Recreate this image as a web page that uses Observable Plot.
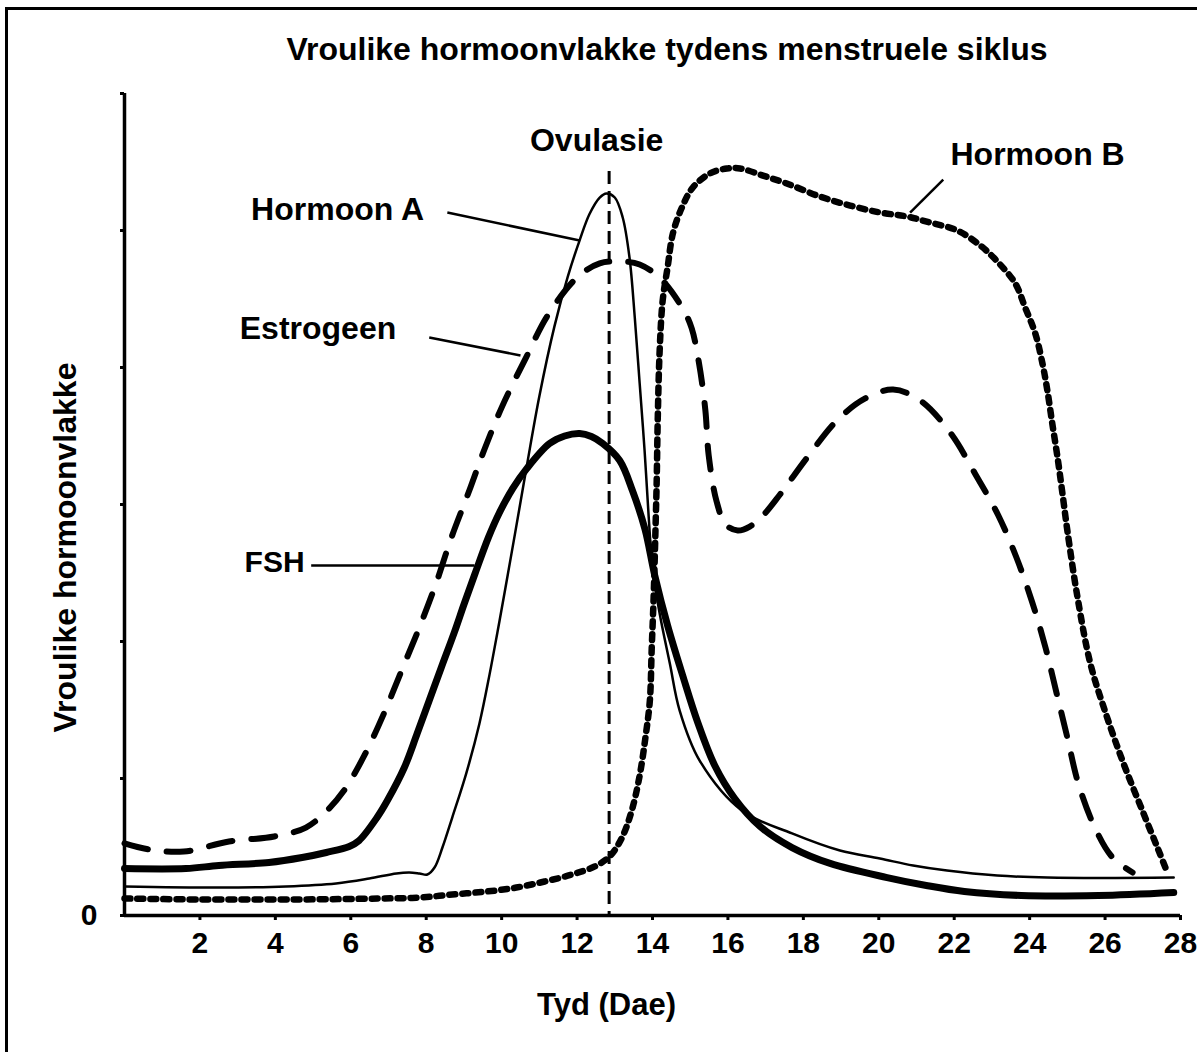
<!DOCTYPE html>
<html>
<head>
<meta charset="utf-8">
<script src="https://cdn.jsdelivr.net/npm/d3@7"></script>
<script src="https://cdn.jsdelivr.net/npm/@observablehq/plot@0.6"></script>
<style>
  html, body { margin: 0; padding: 0; background: #fff; }
  #wrap { position: relative; width: 1197px; height: 1052px; overflow: hidden; background: #fff;
          font-family: "Liberation Sans", Arial, sans-serif; font-weight: bold; }
  #border { position: absolute; left: 5px; top: 7px; width: 1250px; height: 1100px;
            border-left: 3px solid #000; border-top: 3px solid #000; pointer-events: none; z-index: 5; }
  #title { position: relative; height: 80px; }
  #title span { position: absolute; left: 667px; top: 33px; transform: translateX(-50%);
                font-size: 32px; line-height: 32px; white-space: nowrap; color: #000; }
  #chart svg { display: block; }
</style>
</head>
<body>
<div id="wrap">
  <div id="border"></div>
  <div id="title"><span>Vroulike hormoonvlakke tydens menstruele siklus</span></div>
  <div id="chart"></div>
</div>
<script>
// ---- data (day, relative level) ----
const xTicks = [2, 4, 6, 8, 10, 12, 14, 16, 18, 20, 22, 24, 26, 28];
const yTicks = [0, 1, 2, 3, 4, 5, 6];

const estrogen = [
  [0, 0.526], [0.645, 0.482], [1.575, 0.467], [2.77, 0.54], [3.97, 0.577], [4.81, 0.642],
  [5.37, 0.766], [5.82, 0.912], [6.36, 1.168], [6.89, 1.482], [7.37, 1.803], [7.84, 2.117],
  [8.27, 2.431], [8.67, 2.76], [9.14, 3.1], [9.54, 3.4], [10.02, 3.72], [10.66, 4.08],
  [11.22, 4.38], [12.01, 4.66], [12.6, 4.76], [13.15, 4.774], [13.66, 4.752], [14.24, 4.642],
  [14.83, 4.416], [15.04, 4.285], [15.23, 4.036], [15.40, 3.693], [15.49, 3.358], [15.70, 3.022],
  [15.94, 2.854], [16.26, 2.81], [16.58, 2.839], [16.93, 2.92], [17.38, 3.073], [18.12, 3.35],
  [18.89, 3.613], [19.64, 3.774], [20.38, 3.839], [21.1, 3.759], [21.89, 3.526], [22.58, 3.212],
  [23.17, 2.92], [23.65, 2.613], [24.07, 2.285], [24.42, 1.956], [24.71, 1.628], [25.0, 1.299],
  [25.29, 0.964], [25.74, 0.635], [26.2, 0.423], [26.73, 0.314]
];

const hormoneA = [
  [0, 0.212], [2.5, 0.204], [4.28, 0.212], [5.61, 0.234], [6.49, 0.27], [7.21, 0.307],
  [7.55, 0.314], [7.82, 0.307], [8.03, 0.299], [8.22, 0.35], [8.43, 0.496], [8.69, 0.715],
  [9.06, 1.036], [9.41, 1.4], [9.68, 1.76], [9.89, 2.07], [10.1, 2.39], [10.35, 2.78],
  [10.66, 3.27], [11.0, 3.79], [11.4, 4.3], [11.75, 4.66], [12.07, 4.93], [12.33, 5.12],
  [12.6, 5.24], [12.78, 5.27], [13.0, 5.241], [13.21, 5.095], [13.39, 4.803], [13.53, 4.365],
  [13.66, 3.883], [13.79, 3.394], [13.9, 2.905], [14.0, 2.54], [14.19, 2.204], [14.46, 1.839],
  [14.72, 1.496], [15.25, 1.131], [16.37, 0.766], [17.7, 0.599], [18.97, 0.474], [20.03, 0.416],
  [20.91, 0.365], [21.81, 0.328], [23.14, 0.292], [24.47, 0.277], [27.82, 0.277]
];

const fsh = [
  [0, 0.343], [1.63, 0.343], [2.5, 0.365], [3.83, 0.387], [4.71, 0.423], [5.35, 0.46],
  [5.96, 0.504], [6.22, 0.547], [6.7, 0.717], [6.97, 0.839], [7.42, 1.08], [7.76, 1.328],
  [8.08, 1.569], [8.4, 1.81], [8.75, 2.07], [9.0, 2.27], [9.3, 2.5], [9.65, 2.76],
  [9.94, 2.94], [10.3, 3.12], [10.66, 3.26], [11.27, 3.445], [11.67, 3.5], [12.07, 3.518], [12.38, 3.496],
  [12.68, 3.445], [13.13, 3.321], [13.47, 3.1], [13.8, 2.82], [14.06, 2.482], [14.4, 2.117],
  [14.8, 1.752], [15.2, 1.409], [15.65, 1.095], [16.18, 0.854], [16.85, 0.65], [17.7, 0.496], [18.71, 0.38],
  [20.22, 0.277], [21.26, 0.219], [22.27, 0.175], [23.78, 0.146], [25.82, 0.146], [27.82, 0.168]
];

const hormoneB = [
  [0, 0.124], [1.97, 0.117], [4.63, 0.117], [6.75, 0.124], [7.82, 0.131], [8.69, 0.153],
  [9.6, 0.175], [10.39, 0.204], [11.14, 0.248], [11.86, 0.299], [12.47, 0.358], [12.86, 0.431],
  [13.18, 0.562], [13.45, 0.766], [13.66, 1.022], [13.82, 1.314], [13.93, 1.569], [13.98, 1.956],
  [14.03, 2.321], [14.09, 2.934], [14.11, 3.153], [14.14, 3.635], [14.19, 4.124], [14.27, 4.489],
  [14.4, 4.73], [14.54, 4.978], [14.78, 5.168], [15.07, 5.314], [15.52, 5.416], [15.97, 5.453],
  [16.32, 5.453], [16.93, 5.401], [17.56, 5.343], [18.44, 5.248], [19.24, 5.182], [20.04, 5.131],
  [20.75, 5.102], [21.36, 5.058], [22.08, 5.0], [22.69, 4.891], [23.17, 4.766], [23.62, 4.613],
  [23.88, 4.438], [24.15, 4.248], [24.34, 4.029], [24.47, 3.832], [24.6, 3.591], [24.74, 3.343],
  [24.87, 3.08], [25.0, 2.81], [25.27, 2.321], [25.61, 1.839], [26.01, 1.482], [26.49, 1.109],
  [27.02, 0.745], [27.42, 0.474], [27.66, 0.307]
];

const ovulationDay = [12.85];
const ovulationTop = 5.43;

const labelText = ["Ovulasie", "Hormoon A", "Estrogeen", "FSH", "Hormoon B"];
const labelDay = [12.52, 5.65, 5.13, 3.98, 24.21];
const labelLevel = [5.657, 5.153, 4.285, 2.577, 5.555];
const labelSize = [32, 32, 32, 30, 32];

const leaderFrom = [[8.56, 5.131], [8.08, 4.219], [4.95, 2.555], [21.71, 5.372]];
const leaderTo = [[12.07, 4.927], [10.5, 4.088], [9.28, 2.555], [20.83, 5.131]];

// ---- tables built from the arrays ----
const labels = labelText.map((t, i) => ({text: t, day: labelDay[i], level: labelLevel[i], size: labelSize[i]}));
const leaders = leaderFrom.map((f, i) => ({x1: f[0], y1: f[1], x2: leaderTo[i][0], y2: leaderTo[i][1]}));

const chart = Plot.plot({
  width: 1197,
  height: 972,
  marginTop: 13,
  marginBottom: 137,
  marginLeft: 124,
  marginRight: 17,
  x: {domain: [0, 28]},
  y: {domain: [0, 6]},
  style: {
    fontFamily: '"Liberation Sans", Arial, sans-serif',
    fontWeight: "bold",
    fontSize: "30px",
    color: "#000",
    background: "transparent",
    overflow: "visible"
  },
  marks: [
    Plot.ruleY([0], {stroke: "#000", strokeWidth: 3.5}),
    Plot.ruleX([0], {stroke: "#000", strokeWidth: 3.5}),
    Plot.axisX({ticks: xTicks, tickSize: 5, tickPadding: 11, strokeWidth: 3, label: null, tickFormat: d => String(d)}),
    Plot.axisY({ticks: yTicks, tickSize: 4, tickPadding: 23, strokeWidth: 3, label: null, tickFormat: d => d === 0 ? "0" : ""}),
    Plot.ruleX(ovulationDay, {y1: ovulationTop, y2: 0, stroke: "#000", strokeWidth: 3, strokeDasharray: "13 7"}),
    Plot.line(hormoneB, {curve: "catmull-rom", stroke: "#000", strokeWidth: 6.5, strokeDasharray: "6 7"}),
    Plot.line(estrogen, {curve: "catmull-rom", stroke: "#000", strokeWidth: 6, strokeDasharray: "24 19"}),
    Plot.line(hormoneA, {curve: "catmull-rom", stroke: "#000", strokeWidth: 2.5}),
    Plot.line(fsh, {curve: "catmull-rom", stroke: "#000", strokeWidth: 7}),
    Plot.link(leaders, {x1: "x1", y1: "y1", x2: "x2", y2: "y2", stroke: "#000", strokeWidth: 2.5}),
    Plot.text(labels, {x: "day", y: "level", text: "text", fontSize: d => d.size, fill: "#000", fontWeight: "bold"}),
    Plot.text(["Tyd (Dae)"], {frameAnchor: "bottom", textAnchor: "middle", lineAnchor: "middle", dx: -46, dy: 90, fontSize: 31, fill: "#000"}),
    Plot.text(["Vroulike hormoonvlakke"], {frameAnchor: "left", textAnchor: "middle", lineAnchor: "middle", dx: -59, dy: 43, rotate: -90, fontSize: 32, fill: "#000"})
  ]
});
document.getElementById("chart").appendChild(chart);
</script>
</body>
</html>
